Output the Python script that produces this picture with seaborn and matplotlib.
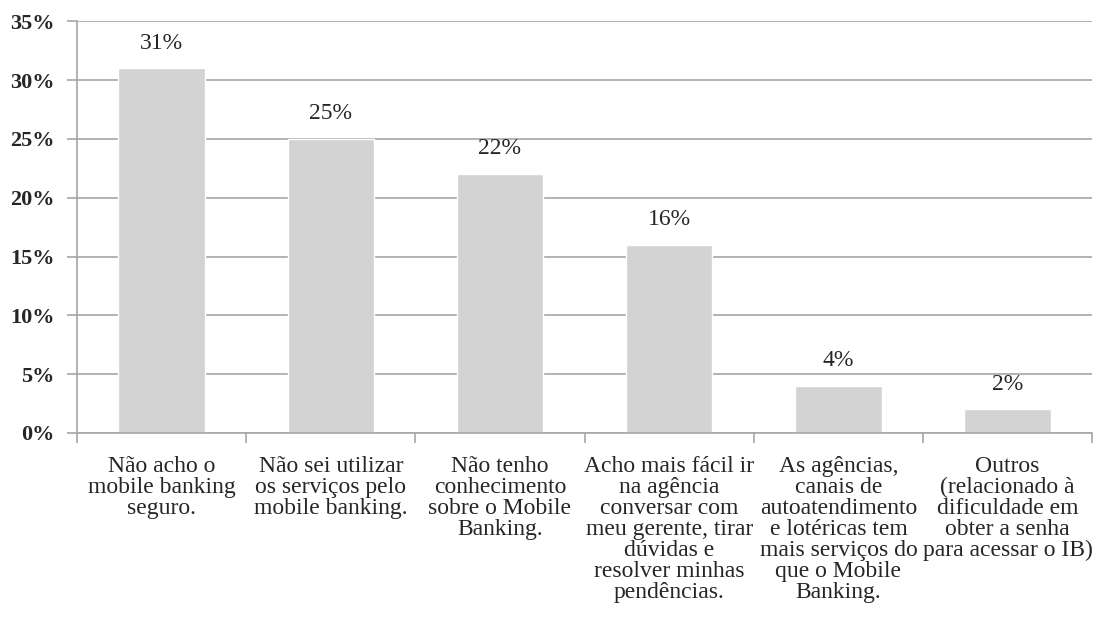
import matplotlib
matplotlib.use("Agg")
import matplotlib.pyplot as plt
import seaborn as sns
import pandas as pd
from matplotlib.ticker import FuncFormatter

categories = [
    "Não acho o\nmobile banking\nseguro.",
    "Não sei utilizar\nos serviços pelo\nmobile banking.",
    "Não tenho\nconhecimento\nsobre o Mobile\nBanking.",
    "Acho mais fácil ir\nna agência\nconversar com\nmeu gerente, tirar\ndúvidas e\nresolver minhas\npendências.",
    "As agências,\ncanais de\nautoatendimento\ne lotéricas tem\nmais serviços do\nque o Mobile\nBanking.",
    "Outros\n(relacionado à\ndificuldade em\nobter a senha\npara acessar o IB)",
]
values = [31, 25, 22, 16, 4, 2]
yticks = [0, 5, 10, 15, 20, 25, 30, 35]

sns.set_theme(style="white")
plt.rcParams['font.family'] = ['Liberation Serif', 'DejaVu Serif']

df = pd.DataFrame({"cat": categories, "val": values})

fig = plt.figure(figsize=(10.97, 6.43), dpi=100)
ax = fig.add_axes([0.0702, 0.3266, 0.9254, 0.6404])
sns.barplot(data=df, x="cat", y="val", color="#d3d3d3", width=0.51,
            saturation=1, ax=ax, zorder=2)

ax.set_ylim(0, 35)
ax.set_xlim(-0.5, len(categories) - 0.5)
ax.set_yticks(yticks)
ax.yaxis.set_major_formatter(FuncFormatter(lambda v, p: f"{int(v)}%"))
ax.grid(axis="y", color="#a6a6a6", linewidth=1.2, zorder=0)
ax.set_axisbelow(True)
for s in ["top", "right"]:
    ax.spines[s].set_visible(False)
for s in ["left", "bottom"]:
    ax.spines[s].set_color("#a6a6a6")
    ax.spines[s].set_linewidth(1.2)

ax.tick_params(axis="y", which="both", left=True, length=7, color="#a6a6a6",
               width=1.2, labelsize=16, pad=9)
for t in ax.get_yticklabels():
    t.set_fontweight("bold")
ax.set_xticks([i + 0.5 for i in range(len(categories) - 1)] + [-0.5, len(categories) - 0.5], minor=True)
ax.tick_params(axis="x", which="minor", bottom=True, length=7, color="#a6a6a6", width=1.2)
ax.tick_params(axis="x", which="major", bottom=False, labelsize=17, pad=10.5)
ax.set_xticklabels(categories, linespacing=1.0)
ax.set_xlabel("")
ax.set_ylabel("")

for i, v in enumerate(values):
    ax.text(i, v + 1.25, f"{v}%", ha="center", va="bottom", fontsize=17)

fig.savefig("out.png", dpi=100)
